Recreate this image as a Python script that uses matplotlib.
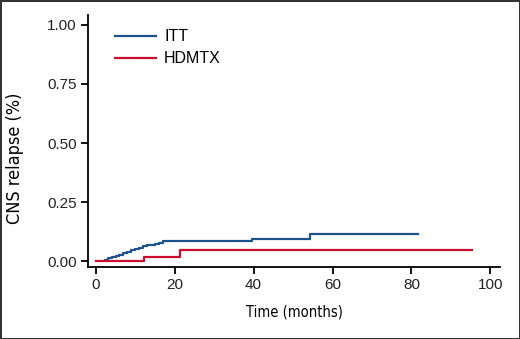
import numpy as np
import matplotlib.pyplot as plt

plt.rcParams['font.family'] = ['Liberation Sans', 'DejaVu Sans']

# Kaplan-Meier style cumulative incidence (step curves)
itt_time = [0, 2.3, 3, 4, 5, 6, 7, 8, 9, 10, 11, 12, 13, 14, 15, 16, 17, 39.5, 54.3, 81.7]
itt_val = [0, 0.005, 0.012, 0.018, 0.022, 0.028, 0.034, 0.040, 0.046, 0.052, 0.058, 0.064,
           0.068, 0.070, 0.073, 0.078, 0.086, 0.096, 0.117, 0.117]
itt_start = 2.3

hdmtx_time = [0, 12.2, 21.3, 95.3]
hdmtx_val = [0, 0.018, 0.046, 0.046]

x_ticks = [0, 20, 40, 60, 80, 100]
y_ticks = [0.00, 0.25, 0.50, 0.75, 1.00]

blue = '#1c5289'
red = '#c8102e'

fig = plt.figure(figsize=(5.2, 3.39), dpi=100)
fig.patch.set_edgecolor('#333333')
fig.patch.set_linewidth(2)
ax = fig.add_axes([0.169, 0.212, 0.793, 0.744])

t = np.array(itt_time)
v = np.array(itt_val)
m = t >= itt_start
ax.step(t[m], v[m], where='post', color=blue, lw=1.6, label='ITT')
ax.step(hdmtx_time, hdmtx_val, where='post', color=red, lw=1.6, label='HDMTX')

ax.set_xlim(-2, 102.5)
ax.set_ylim(-0.025, 1.042)
ax.set_xticks(x_ticks)
ax.set_yticks(y_ticks)
ax.set_yticklabels([f'{y:.2f}' for y in y_ticks])
ax.spines['top'].set_visible(False)
ax.spines['right'].set_visible(False)
ax.spines['left'].set_linewidth(1.3)
ax.spines['bottom'].set_linewidth(1.3)
ax.tick_params(direction='out', length=5, width=1.3, labelsize=11, pad=3,
               labelcolor='#222222')

ax.set_xlabel('Time (months)', family='DejaVu Sans', stretch='condensed',
              fontsize=10.5, labelpad=9)
ax.set_ylabel('CNS relapse (%)', family='DejaVu Sans', stretch='condensed',
              fontsize=13)
ax.yaxis.set_label_coords(-0.155, 0.43)

leg = ax.legend(loc='upper left', bbox_to_anchor=(0.03, 1.0), frameon=False,
                handlelength=2.6, prop={'size': 11.5},
                labelspacing=0.45, handletextpad=0.5)

fig.savefig('out.png', dpi=100)
